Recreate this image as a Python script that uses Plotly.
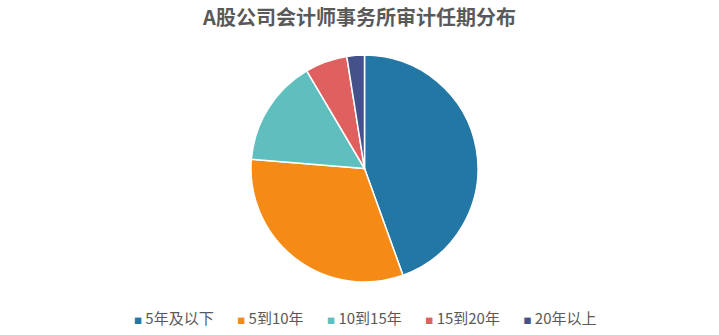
import plotly.graph_objects as go

categories = ["5年及以下", "5到10年", "10到15年", "15到20年", "20年以上"]
values = [44.5, 31.8, 15.2, 6.0, 2.5]
colors = ["#2377A4", "#F58A17", "#5FBFBF", "#E06060", "#45528A"]

fig = go.Figure(go.Pie(
    labels=categories,
    values=values,
    sort=False,
    direction="clockwise",
    rotation=0,
    textinfo="none",
    hoverinfo="label+percent",
    showlegend=False,
    marker=dict(colors=colors, line=dict(color="white", width=1.5)),
))

# legend drawn as a single text line with coloured square glyphs
NB = "\u00a0"
items = [
    f'<span style="color:{c};font-size:8px">■</span>{NB}{name}'
    for name, c in zip(categories, colors)
]
legend_text = (NB * 7).join(items)

fig.add_annotation(
    text=legend_text, xref="paper", yref="paper",
    x=0.5, y=-0.158, xanchor="center", yanchor="middle",
    showarrow=False,
    font=dict(size=15, color="#595959", family="Noto Sans CJK SC, sans-serif"),
)

fig.update_layout(
    width=719, height=335,
    paper_bgcolor="white",
    plot_bgcolor="white",
    margin=dict(l=10, r=0, t=55, b=53),
    font=dict(family="Noto Sans CJK SC, sans-serif", color="#595959"),
    title=dict(text="<b>A股公司会计师事务所审计任期分布</b>", x=0.5, xanchor="center",
               y=0.945, yanchor="middle",
               font=dict(size=20, color="#595959", family="Noto Sans CJK SC, sans-serif")),
    showlegend=False,
)

fig.write_html("out.html")
